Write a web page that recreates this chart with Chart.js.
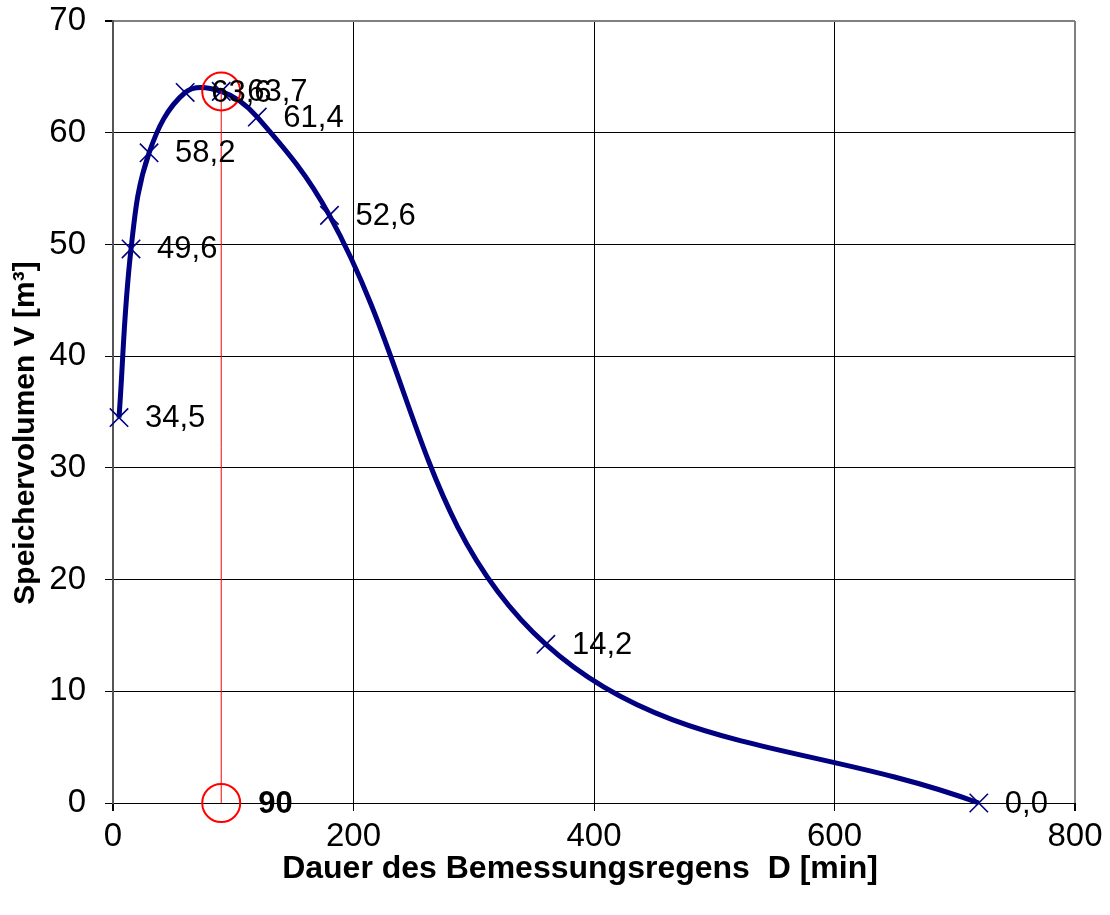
<!DOCTYPE html>
<html><head><meta charset="utf-8">
<script src="https://cdn.jsdelivr.net/npm/chart.js@4.4.1/dist/chart.umd.min.js"></script>
<style>html,body{margin:0;padding:0;background:#fff}#wrap{width:1110px;height:915px}</style>
</head><body><div id="wrap"><canvas id="c" width="1110" height="915"></canvas></div>
<script>
const durations = [5, 15, 30, 60, 90, 120, 180, 360, 720];
const volumes = [34.5, 49.6, 58.2, 63.6, 63.7, 61.4, 52.6, 14.2, 0.0];
const critX = 90;
const critV = 63.7;
const xTicks = [0, 200, 400, 600, 800];
const yTicks = [0, 10, 20, 30, 40, 50, 60, 70];
const xTitle = 'Dauer des Bemessungsregens  D [min]';
const yTitle = 'Speichervolumen V [m³]';

const FONT = '"Liberation Sans", Arial, sans-serif';

const labelPlugin = {
  id: 'lbl',
  afterDatasetsDraw(chart) {
    const ctx = chart.ctx, xs = chart.scales.x, ys = chart.scales.y;
    ctx.save();
    ctx.fillStyle = '#000';
    ctx.textBaseline = 'middle';
    ctx.textAlign = 'left';
    ctx.font = '31px ' + FONT;
    durations.forEach((d, i) => {
      const px = xs.getPixelForValue(d), py = ys.getPixelForValue(volumes[i]);
      ctx.fillText(volumes[i].toFixed(1).replace('.', ','), px + 26, py + 1);
    });
    ctx.font = 'bold 31px ' + FONT;
    ctx.fillText(String(critX), xs.getPixelForValue(critX) + 37, ys.getPixelForValue(0) + 1);
    ctx.restore();
  },
  afterDraw(chart) {
    const ctx = chart.ctx;
    ctx.save();
    ctx.fillStyle = '#000';
    ctx.textAlign = 'center';
    ctx.textBaseline = 'middle';
    ctx.font = 'bold 32px ' + FONT;
    ctx.fillText(xTitle, 580, 869);
    ctx.translate(26, 433);
    ctx.rotate(-Math.PI / 2);
    ctx.font = 'bold 30px ' + FONT;
    ctx.fillText(yTitle, 0, 0);
    ctx.restore();
  }
};

new Chart(document.getElementById('c'), {
  type: 'scatter',
  data: {
    datasets: [
      {
        data: durations.map((d, i) => ({x: d, y: volumes[i]})),
        showLine: true,
        borderColor: '#000080',
        borderWidth: 5,
        tension: 0.38,
        pointStyle: 'crossRot',
        pointRadius: 13,
        pointBorderColor: '#000080',
        pointBorderWidth: 1.6,
        pointBackgroundColor: 'transparent',
        clip: false,
        order: 1
      },
      {
        data: [{x: critX, y: 0}, {x: critX, y: critV}],
        showLine: true,
        borderColor: '#ff0000',
        borderWidth: 1,
        tension: 0,
        pointStyle: 'circle',
        pointRadius: 19,
        pointBorderColor: '#ff0000',
        pointBorderWidth: 2,
        pointBackgroundColor: 'transparent',
        clip: false,
        order: 0
      }
    ]
  },
  options: {
    responsive: false,
    animation: false,
    devicePixelRatio: 1,
    layout: {padding: {left: 0, right: 35, top: 21, bottom: 0}},
    plugins: {legend: {display: false}, tooltip: {enabled: false}},
    scales: {
      x: {
        type: 'linear', min: 0, max: 800,
        afterBuildTicks: s => { s.ticks = xTicks.map(v => ({value: v})); },
        afterFit: s => { s.height = 112; s.paddingLeft = 0; s.paddingRight = 0; },
        ticks: {color: '#000', font: {size: 33, family: FONT}, padding: 6, maxRotation: 0},
        grid: {color: c => (c.index === 0 || c.index === 4) ? '#808080' : '#000', lineWidth: c => (c.index === 0 || c.index === 4) ? 2 : 1, tickLength: 8, tickColor: '#000'},
        border: {color: '#000', width: 1}
      },
      y: {
        type: 'linear', min: 0, max: 70,
        afterBuildTicks: s => { s.ticks = yTicks.map(v => ({value: v})); },
        afterFit: s => { s.width = 113; s.paddingTop = 0; s.paddingBottom = 0; },
        ticks: {color: '#000', font: {size: 33, family: FONT}, padding: 19},
        grid: {color: c => (c.index === 7) ? '#808080' : '#000', lineWidth: c => (c.index === 7) ? 2 : 1, tickLength: 8, tickColor: '#000'},
        border: {color: '#555', width: 2}
      }
    }
  },
  plugins: [labelPlugin]
});
</script></body></html>
